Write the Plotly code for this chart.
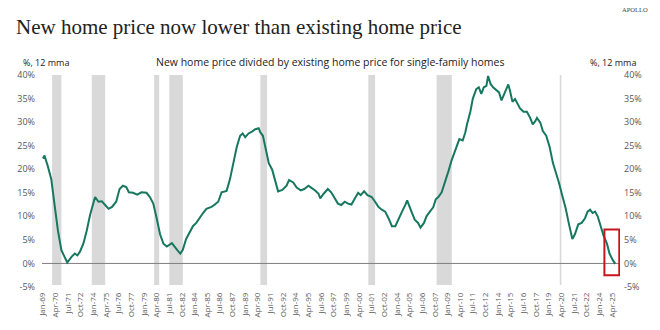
import plotly.graph_objects as go
import pandas as pd

# ---- data ----
dates = [
    "1969-01","1969-03","1969-07","1969-11","1970-03","1970-07","1970-11","1971-03","1971-06","1971-11",
    "1972-03","1972-06","1972-09","1973-01","1973-05","1973-09","1974-01","1974-03","1974-07","1974-11",
    "1975-03","1975-07","1975-11","1976-04","1976-08","1976-12","1977-04","1977-07","1977-12","1978-05",
    "1978-10","1979-04","1979-08","1979-12","1980-04","1980-08","1980-12","1981-04","1981-10","1982-02",
    "1982-05","1982-08","1982-11","1983-03","1983-07","1983-11","1984-03","1984-07","1984-11","1985-03",
    "1985-09","1986-01","1986-05","1986-09","1987-03","1987-07","1987-11","1988-03","1988-07","1988-10",
    "1989-01","1989-05","1989-09","1990-01","1990-05","1990-07","1990-10","1991-01","1991-05","1991-09",
    "1992-01","1992-04","1992-09","1993-02","1993-05","1993-10","1994-02","1994-07","1994-11","1995-04",
    "1995-08","1995-12","1996-04","1996-06","1996-10","1997-03","1997-07","1997-11","1998-03","1998-07",
    "1998-11","1999-03","1999-07","1999-11","2000-03","2000-06","2000-10","2001-02","2001-07","2001-11",
    "2002-03","2002-07","2002-11","2003-03","2003-07","2003-11","2004-03","2004-07","2004-11","2005-01",
    "2005-04","2005-08","2005-10","2006-02","2006-05","2006-09","2006-12","2007-04","2007-08","2007-11",
    "2008-02","2008-06","2008-10","2009-02","2009-06","2009-11","2010-03","2010-07","2010-10","2010-12",
    "2011-04","2011-07","2011-11","2012-02","2012-05","2012-08","2012-11","2013-01","2013-04","2013-07",
    "2013-11","2014-02","2014-05","2014-08","2014-11","2015-01","2015-03","2015-06","2015-09","2015-12",
    "2016-03","2016-07","2016-11","2017-03","2017-06","2017-09","2017-11","2018-03","2018-06","2018-10",
    "2019-02","2019-06","2019-10","2020-01","2020-05","2020-09","2021-01","2021-05","2021-08","2021-12",
    "2022-04","2022-08","2022-11","2023-02","2023-05","2023-08","2023-11","2024-02","2024-06","2024-10",
    "2025-01","2025-05","2025-08",
]
ratio_pct = [
    22.3, 22.9, 20.6, 17.9, 12.4, 6.9, 2.8, 1.1, 0.2, 1.4,
    2.1, 1.7, 2.5, 4.2, 6.9, 10.3, 13.1, 14.1, 13.1, 13.2,
    12.4, 11.6, 12.0, 13.1, 15.8, 16.5, 16.2, 15.1, 15.0, 14.6,
    15.1, 15.0, 14.1, 12.7, 9.6, 6.2, 4.2, 3.6, 4.3, 3.3,
    2.7, 2.1, 2.9, 5.2, 6.6, 7.9, 8.6, 9.8, 10.7, 11.6,
    12.0, 12.5, 13.1, 15.1, 15.4, 17.9, 21.3, 24.7, 27.1, 27.6,
    26.8, 27.6, 28.0, 28.5, 28.7, 27.8, 27.1, 24.7, 21.3, 19.9,
    17.2, 15.3, 15.6, 16.5, 17.7, 17.2, 16.1, 15.5, 15.8, 16.5,
    16.0, 15.5, 14.8, 13.8, 14.8, 15.8, 15.1, 13.9, 12.7, 12.4,
    13.1, 12.7, 12.5, 13.8, 15.0, 14.5, 15.3, 14.5, 14.1, 13.1,
    12.0, 11.4, 11.0, 9.6, 7.9, 7.9, 9.6, 11.0, 12.5, 13.4,
    12.0, 10.3, 9.3, 8.6, 7.6, 8.6, 10.0, 11.0, 11.9, 13.6,
    14.1, 15.1, 17.2, 19.6, 22.0, 24.7, 26.4, 26.1, 27.8, 29.5,
    32.2, 35.0, 37.0, 37.4, 36.0, 37.4, 37.7, 39.8, 38.1, 37.4,
    36.7, 36.3, 34.6, 36.0, 37.4, 38.0, 36.7, 34.3, 34.9, 33.9,
    32.9, 32.2, 32.2, 30.9, 29.5, 30.2, 30.9, 29.9, 28.1, 27.1,
    24.7, 21.3, 19.2, 17.2, 14.4, 11.7, 8.3, 5.2, 6.2, 8.3,
    8.6, 9.6, 11.0, 11.4, 10.7, 11.0, 10.0, 8.3, 5.9, 4.2,
    2.1, 0.7, -0.1,
]

recession_starts = ["1969-12-01", "1973-11-01", "1980-01-01", "1981-07-01", "1990-07-01",
                    "2001-03-01", "2007-12-01", "2020-02-01"]
recession_ends = ["1970-11-01", "1975-03-01", "1980-07-01", "1982-11-01", "1991-03-01",
                  "2001-11-01", "2009-06-01", "2020-04-01"]

tick_labels = [
    "Jan-69","Apr-70","Jul-71","Oct-72","Jan-74","Apr-75","Jul-76","Oct-77","Jan-79","Apr-80",
    "Jul-81","Oct-82","Jan-84","Apr-85","Jul-86","Oct-87","Jan-89","Apr-90","Jul-91","Oct-92",
    "Jan-94","Apr-95","Jul-96","Oct-97","Jan-99","Apr-00","Jul-01","Oct-02","Jan-04","Apr-05",
    "Jul-06","Oct-07","Jan-09","Apr-10","Jul-11","Oct-12","Jan-14","Apr-15","Jul-16","Oct-17",
    "Jan-19","Apr-20","Jul-21","Oct-22","Jan-24","Apr-25",
]
y_ticks = [-5, 0, 5, 10, 15, 20, 25, 30, 35, 40]

highlight_x = ["2024-07-01", "2025-12-20"]
highlight_y = [-2.5, 7.2]

# ---- figure ----
tick_dates = [pd.to_datetime(t, format="%b-%y") for t in tick_labels]
x_dates = pd.to_datetime(dates, format="%Y-%m")

LINE = "#17785F"
GREY_TXT = "#595959"
FONT = "Open Sans"

fig = go.Figure()
fig.add_trace(go.Scatter(x=x_dates, y=ratio_pct, mode="lines",
                         line=dict(color=LINE, width=2), showlegend=False))
fig.add_trace(go.Scatter(x=x_dates, y=ratio_pct, mode="lines", yaxis="y2",
                         line=dict(color="rgba(0,0,0,0)", width=0), showlegend=False,
                         hoverinfo="skip"))

shapes = []
for s, e in zip(recession_starts, recession_ends):
    shapes.append(dict(type="rect", xref="x", yref="paper", x0=s, x1=e, y0=0.01, y1=1,
                       fillcolor="#d9d9d9", line=dict(width=0), layer="below"))
shapes.append(dict(type="line", xref="paper", yref="y", x0=0, x1=1, y0=0, y1=0,
                   line=dict(color="#7f7f7f", width=1), layer="below"))
shapes.append(dict(type="rect", xref="x", yref="y", x0=highlight_x[0], x1=highlight_x[1],
                   y0=highlight_y[0], y1=highlight_y[1], line=dict(color="#C8151D", width=2),
                   fillcolor="rgba(0,0,0,0)"))

yax = dict(range=[-5, 40], tickvals=y_ticks, ticktext=[f"{v}%" for v in y_ticks],
           showgrid=False, zeroline=False, showline=False, ticks="",
           tickfont=dict(family=FONT, size=9, color=GREY_TXT))

fig.update_layout(
    width=660, height=330,
    margin=dict(l=42, r=40, t=75, b=35),
    paper_bgcolor="white", plot_bgcolor="white",
    xaxis=dict(type="date", range=["1968-12-01", "2026-01-15"], tickvals=tick_dates,
               ticktext=tick_labels, tickangle=-90, showgrid=False, zeroline=False,
               showline=False, ticks="", ticklabelstandoff=3,
               tickfont=dict(family=FONT, size=8, color=GREY_TXT)),
    yaxis=dict(yax, ticklabelstandoff=6),
    yaxis2=dict(yax, overlaying="y", side="right", ticklabelstandoff=3),
    shapes=shapes,
    annotations=[
        dict(text="New home price now lower than existing home price", xref="paper", yref="paper",
             x=-0.049, y=1.225, xanchor="left", yanchor="middle", showarrow=False,
             font=dict(family="Liberation Serif", size=21, color="#222222")),
        dict(text="APOLLO", xref="paper", yref="paper", x=1.052, y=1.31, xanchor="right",
             yanchor="middle", showarrow=False,
             font=dict(family="Liberation Serif", size=6.5, color="#444444")),
        dict(text="New home price divided by existing home price for single-family homes",
             xref="paper", yref="paper", x=0.498, y=1.059, xanchor="center", yanchor="middle",
             showarrow=False, font=dict(family=FONT, size=10.5, color="#222222")),
        dict(text="%, 12 mma", xref="paper", yref="paper", x=-0.036, y=1.059, xanchor="left",
             yanchor="middle", showarrow=False, font=dict(family=FONT, size=9, color="#222222")),
        dict(text="%, 12 mma", xref="paper", yref="paper", x=1.031, y=1.059, xanchor="right",
             yanchor="middle", showarrow=False, font=dict(family=FONT, size=9, color="#222222")),
    ],
)

fig.write_html("out.html")
